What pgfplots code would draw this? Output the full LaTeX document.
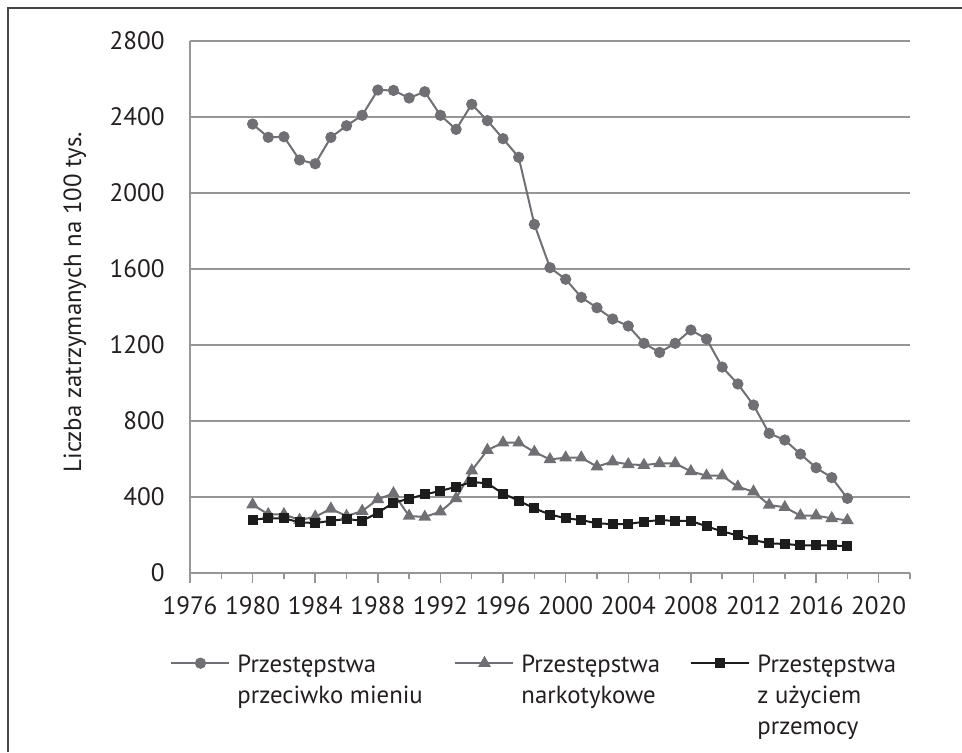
\documentclass[border=0pt]{standalone}
\usepackage{fontspec}
\setmainfont{PT Sans}
\usepackage{pgfplots}
\pgfplotsset{compat=1.18}
\definecolor{sergray}{RGB}{112,112,116}
\definecolor{serblack}{RGB}{28,28,28}
\definecolor{gridgray}{RGB}{150,150,150}
\definecolor{framegray}{RGB}{70,70,70}
\definecolor{txt}{RGB}{35,31,32}
\begin{document}
\begin{tikzpicture}
\useasboundingbox (0,0) rectangle (481pt,-376pt);
\draw[framegray, line width=0.7pt] (4pt,-376pt) -- (4pt,-4pt) -- (481pt,-4pt);
\begin{axis}[
  at={(95pt,-286.5pt)}, anchor=south west,
  scale only axis, width=360pt, height=266pt,
  xmin=1976, xmax=2022, ymin=0, ymax=2800,
  axis lines*=left,
  axis line style={-, draw=gridgray, line width=0.75pt},
  xtick={1976,1980,...,2020},
  minor xtick={1978,1982,...,2022},
  ytick={0,400,...,2800},
  tick align=outside,
  major tick length=5pt, minor tick length=3pt,
  xtick style={draw=gridgray, line width=0.75pt},
  minor tick style={draw=gridgray, line width=0.75pt},
  ytick style={draw=none},
  ymajorgrids,
  grid style={draw=gridgray, line width=0.75pt},
  /pgf/number format/1000 sep={},
  /pgf/number format/assume math mode=true,
  tick label style={font=\fontsize{12.6}{15.5}\selectfont, text=txt},
  xticklabel style={yshift=-3pt},
  yticklabel style={xshift=-4.2pt},
  ylabel={Liczba zatrzymanych na 100 tys.},
  ylabel style={at={(axis description cs:-0.16,0.509)}, anchor=center, rotate=0, font=\fontsize{12.4}{15.5}\selectfont, text=txt},
  legend columns=3,
  legend style={draw=none, fill=none, at={(axis description cs:-0.036,-0.138)}, anchor=north west,
    column sep=0pt, nodes={inner sep=0pt, font=\fontsize{12.4}{15.5}\selectfont, text=txt}},
  legend image code/.code={\draw[mark repeat=2, mark phase=2, #1] plot coordinates {(0pt,0pt) (14.5pt,0pt) (29pt,0pt)};},
]
\addplot[sergray, line width=1pt, mark=*, mark size=2.3pt, mark options={fill=sergray, draw=sergray}] coordinates {
(1980,2363) (1981,2293) (1982,2296) (1983,2174) (1984,2154) (1985,2293) (1986,2354) (1987,2409)
(1988,2542) (1989,2540) (1990,2500) (1991,2533) (1992,2409) (1993,2335) (1994,2467) (1995,2381)
(1996,2286) (1997,2188) (1998,1835) (1999,1607) (2000,1546) (2001,1451) (2002,1396) (2003,1337)
(2004,1300) (2005,1209) (2006,1161) (2007,1209) (2008,1279) (2009,1232) (2010,1084) (2011,995)
(2012,884) (2013,735) (2014,700) (2015,626) (2016,554) (2017,502) (2018,393)};
\addlegendentry{\begin{tabular}[t]{@{\hspace{3.5pt}}p{108.5pt}@{}}Przestępstwa\\przeciwko mieniu\end{tabular}}
\addplot[sergray, line width=1pt, mark=triangle*, mark size=2.7pt, mark options={fill=sergray, draw=sergray}] coordinates {
(1980,360) (1981,309) (1982,309) (1983,279) (1984,296) (1985,338) (1986,300) (1987,326)
(1988,388) (1989,419) (1990,300) (1991,295) (1992,323) (1993,393) (1994,539) (1995,647)
(1996,686) (1997,686) (1998,637) (1999,598) (2000,607) (2001,607) (2002,560) (2003,586)
(2004,572) (2005,568) (2006,577) (2007,577) (2008,535) (2009,512) (2010,512) (2011,454)
(2012,428) (2013,358) (2014,346) (2015,302) (2016,302) (2017,288) (2018,277)};
\addlegendentry{\begin{tabular}[t]{@{\hspace{3.5pt}}p{84.5pt}@{}}Przestępstwa\\narkotykowe\end{tabular}}
\addplot[serblack, line width=1pt, mark=square*, mark size=2pt, mark options={fill=serblack, draw=serblack}] coordinates {
(1980,281) (1981,288) (1982,288) (1983,267) (1984,263) (1985,275) (1986,284) (1987,275)
(1988,317) (1989,370) (1990,391) (1991,414) (1992,432) (1993,454) (1994,479) (1995,472)
(1996,418) (1997,381) (1998,340) (1999,308) (2000,288) (2001,279) (2002,261) (2003,258)
(2004,258) (2005,270) (2006,279) (2007,274) (2008,274) (2009,246) (2010,219) (2011,198)
(2012,174) (2013,156) (2014,153) (2015,146) (2016,146) (2017,146) (2018,140)};
\addlegendentry{\begin{tabular}[t]{@{\hspace{3.5pt}}p{80pt}@{}}Przestępstwa\\z użyciem\\przemocy\end{tabular}}
\end{axis}
\end{tikzpicture}
\end{document}
